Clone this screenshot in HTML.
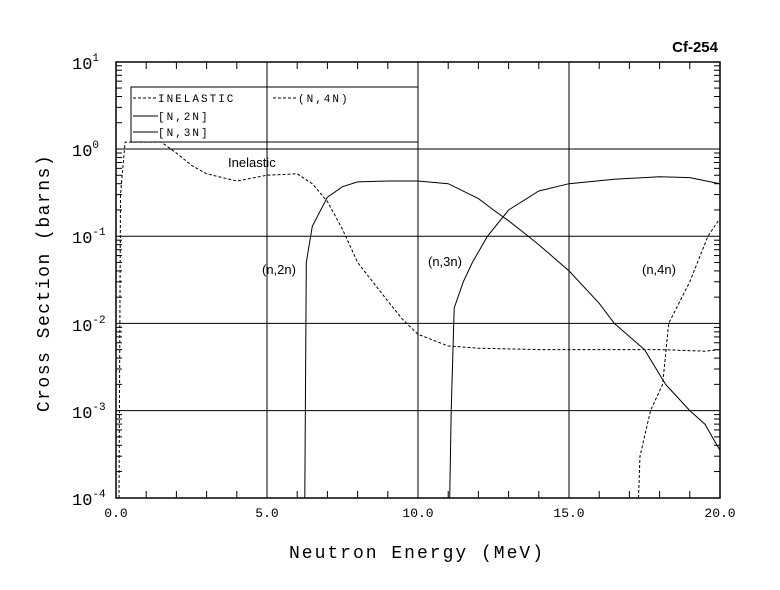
<!DOCTYPE html>
<html><head><meta charset="utf-8"><style>
html,body{margin:0;padding:0;background:#fff;}
svg{display:block;}
.m{font-family:"Liberation Mono",monospace;fill:#000;}
.s{font-family:"Liberation Sans",sans-serif;fill:#000;}
</style></head><body>
<svg id="c" width="780" height="590" viewBox="0 0 780 590" xmlns="http://www.w3.org/2000/svg">
<rect width="780" height="590" fill="#fff"/>
<g id="grid" stroke="#000" stroke-width="1" fill="none"></g>
<rect x="116" y="62" width="604" height="436" fill="none" stroke="#000" stroke-width="1.5"/>
<g class="m" font-size="13">
<text x="116" y="517" text-anchor="middle">0.0</text>
<text x="267" y="517" text-anchor="middle">5.0</text>
<text x="418" y="517" text-anchor="middle">10.0</text>
<text x="569" y="517" text-anchor="middle">15.0</text>
<text x="720" y="517" text-anchor="middle">20.0</text>
</g>
<g class="m" font-size="17">
<text x="72" y="69">10<tspan font-size="11" dy="-8">1</tspan></text>
<text x="72" y="156">10<tspan font-size="11" dy="-8">0</tspan></text>
<text x="72" y="243">10<tspan font-size="11" dy="-8">-1</tspan></text>
<text x="72" y="331">10<tspan font-size="11" dy="-8">-2</tspan></text>
<text x="72" y="418">10<tspan font-size="11" dy="-8">-3</tspan></text>
<text x="72" y="505">10<tspan font-size="11" dy="-8">-4</tspan></text>
</g>
<text class="m" font-size="18" x="417" y="558" text-anchor="middle" letter-spacing="2">Neutron Energy (MeV)</text>
<text class="m" font-size="18" transform="translate(49,283) rotate(-90)" text-anchor="middle" letter-spacing="1.5">Cross Section (barns)</text>
<text class="s" font-size="15" font-weight="bold" x="718" y="52" text-anchor="end">Cf-254</text>
<g class="s" font-size="13">
<text x="228" y="167">Inelastic</text>
<text x="262" y="274">(n,2n)</text>
<text x="428" y="266">(n,3n)</text>
<text x="642" y="274">(n,4n)</text>
</g>
<rect x="131" y="87" width="287" height="55" fill="none" stroke="#000" stroke-width="1"/>
<g stroke="#000" stroke-width="1">
<line x1="133" y1="98" x2="158" y2="98" stroke-dasharray="3,2"/>
<line x1="273" y1="98" x2="298" y2="98" stroke-dasharray="3,2"/>
<line x1="133" y1="116" x2="158" y2="116"/>
<line x1="133" y1="132" x2="158" y2="132"/>
</g>
<g class="m" font-size="11" letter-spacing="2">
<text x="158" y="102">INELASTIC</text>
<text x="298" y="102">(N,4N)</text>
<text x="158" y="120">[N,2N]</text>
<text x="158" y="136">[N,3N]</text>
</g>
<g id="curves" fill="none" stroke="#000" stroke-width="1"></g>
</svg>
<script>
var X=function(e){return 116+e*30.2};
var Y=function(v){return 149-87.2*Math.log10(v)};
var g=document.getElementById('grid'),h='';
[5,10,15].forEach(function(e){h+='<line x1="'+X(e)+'" y1="62" x2="'+X(e)+'" y2="498"/>';});
for(var d=0;d>=-3;d--){h+='<line x1="116" y1="'+Y(Math.pow(10,d))+'" x2="720" y2="'+Y(Math.pow(10,d))+'"/>';}
for(var e=1;e<20;e++){h+='<line x1="'+X(e)+'" y1="498" x2="'+X(e)+'" y2="491"/><line x1="'+X(e)+'" y1="62" x2="'+X(e)+'" y2="69"/>';}
for(d=-4;d<1;d++)for(var k=2;k<10;k++){var y=Y(k*Math.pow(10,d));h+='<line x1="116" y1="'+y+'" x2="122" y2="'+y+'"/><line x1="714" y1="'+y+'" x2="720" y2="'+y+'"/>';}
g.innerHTML=h;
function p(a,dash){var s='M';a.forEach(function(q,i){s+=(i?' L':'')+X(q[0]).toFixed(1)+','+(q[1]===0?498:Y(q[1]).toFixed(1));});return '<path d="'+s+'"'+(dash?' stroke-dasharray="3,2"':'')+'/>';}
var inel=[[0.1,0],[0.15,0.3],[0.3,1.2],[1.5,1.2],[2,0.9],[2.5,0.65],[3,0.52],[4,0.43],[5,0.5],[6,0.52],[6.5,0.4],[7,0.25],[7.5,0.12],[8,0.05],[8.5,0.03],[9,0.018],[9.5,0.011],[10,0.0075],[11,0.0055],[12,0.0052],[14,0.005],[16,0.005],[18,0.005],[19.5,0.0048],[20,0.005]];
var n2=[[6.25,0],[6.3,0.05],[6.5,0.13],[7,0.28],[7.5,0.37],[8,0.42],[9,0.43],[10,0.43],[11,0.4],[12,0.27],[12.5,0.2],[13,0.15],[13.5,0.11],[14,0.08],[15,0.04],[16,0.017],[16.5,0.01],[17.5,0.005],[18.2,0.002],[19,0.001],[19.5,0.0007],[20,0.00035]];
var n3=[[11.05,0],[11.1,0.001],[11.2,0.015],[11.5,0.03],[11.8,0.05],[12.3,0.1],[13,0.2],[14,0.33],[15,0.4],[16.5,0.45],[18,0.48],[19,0.47],[20,0.4]];
var n4=[[17.3,0],[17.35,0.0003],[17.7,0.001],[18.1,0.002],[18.3,0.01],[19,0.03],[19.6,0.1],[20,0.16]];
document.getElementById('curves').innerHTML=p(inel,1)+p(n2)+p(n3)+p(n4,1);
</script>
</body></html>
